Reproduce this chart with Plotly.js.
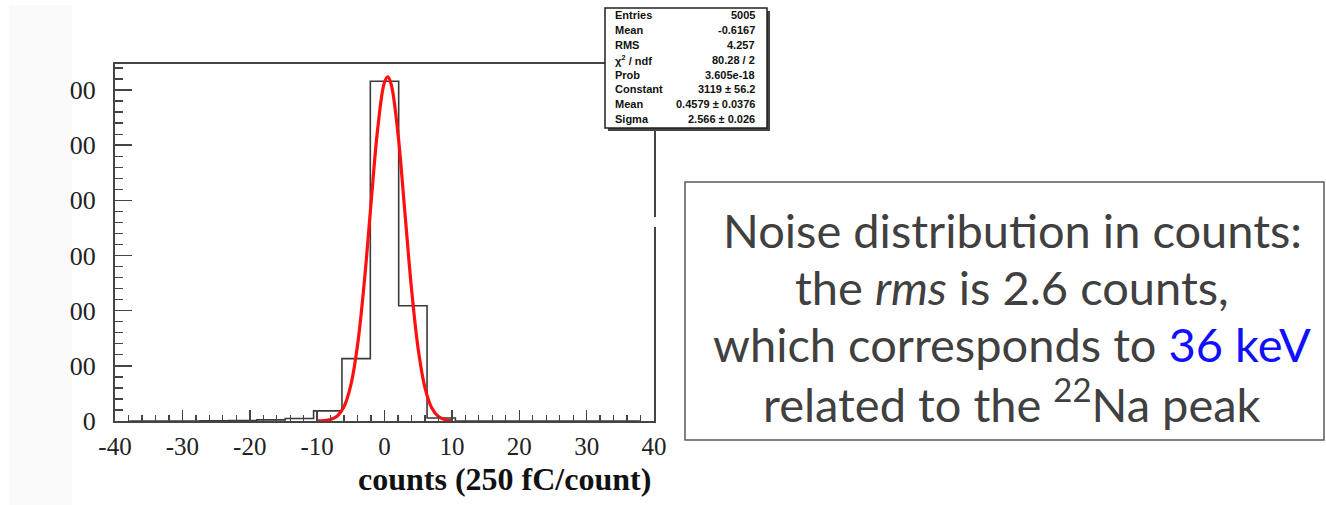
<!DOCTYPE html>
<html>
<head>
<meta charset="utf-8">
<script src="https://cdn.plot.ly/plotly-3.0.1.min.js"></script>
<style>html,body{margin:0;padding:0;background:#fff;}#chart{width:1326px;height:505px;}</style>
</head>
<body>
<div id="chart"></div>
<script>
// ---- data ----
const binCenters = [-37.89, -33.68, -29.47, -25.26, -21.05, -16.84, -12.63, -8.42, -4.21, 0, 4.21, 8.42, 12.63, 16.84, 21.05, 25.26, 29.47, 33.68, 37.89];
const binCounts  = [0, 0, 0, 2, 5, 10, 22, 92, 565, 3080, 1045, 27, 0, 0, 0, 0, 0, 0, 0];
const fitX = [-10, -9, -8, -7, -6, -5, -4, -3, -2, -1, 0, 0.5, 1, 2, 3, 4, 5, 6, 7, 8, 9, 10];
const fitY = [1, 3, 14, 46, 131, 325, 689, 1258, 1971, 2654, 3070, 3119, 3050, 2604, 1910, 1204, 652, 303, 121, 41, 12, 3];
const xTickVals = [-40, -30, -20, -10, 0, 10, 20, 30, 40];
const xTickText = ['-40', '-30', '-20', '-10', '0', '10', '20', '30', '40'];
const yTickVals = [0, 500, 1000, 1500, 2000, 2500, 3000];
const yTickText = ['0', '00', '00', '00', '00', '00', '00'];
const statLabels = ['Entries', 'Mean', 'RMS', 'χ<sup>2</sup> / ndf', 'Prob', 'Constant', 'Mean', 'Sigma'];
const statValues = ['5005', '-0.6167', '4.257', '80.28 / 2', '3.605e-18', '3119 ± 56.2', '0.4579 ± 0.0376', '2.566 ± 0.026'];
const noteLines = [
  'Noise distribution in counts:',
  'the <i>rms</i> is 2.6 counts,',
  'which corresponds to <span style="color:#1010ff">36 keV</span>',
  'related to the <sup>22</sup>Na peak'
];
const xTitle = 'counts (250 fC/count)';

// ---- layout geometry (pixels) ----
const W = 1326, H = 505;
const L = 115, R = 654, T = 64, B = 421;
const px = x => (x - L) / (R - L);
const py = y => (B - y) / (B - T);

const shapes = [
  {type: 'rect', xref: 'paper', yref: 'paper', x0: px(9), x1: px(72), y0: py(505), y1: py(5), fillcolor: '#fafafa', line: {width: 0}, layer: 'below'},
  {type: 'rect', xref: 'paper', yref: 'paper', x0: px(608), x1: px(770), y0: py(131), y1: py(11), fillcolor: '#444', line: {width: 0}, layer: 'above'},
  {type: 'rect', xref: 'paper', yref: 'paper', x0: px(605), x1: px(767), y0: py(128), y1: py(8), fillcolor: '#fff', line: {color: '#222', width: 1.5}, layer: 'above'},
  {type: 'rect', xref: 'paper', yref: 'paper', x0: px(650), x1: px(658), y0: py(227), y1: py(217), fillcolor: '#fff', line: {width: 0}, layer: 'above'},
  {type: 'rect', xref: 'paper', yref: 'paper', x0: px(685), x1: px(1324), y0: py(440), y1: py(182), fillcolor: 'rgba(0,0,0,0)', line: {color: '#5a5a5a', width: 1.5}, layer: 'above'}
];

const statY = [15, 30, 45, 60, 74.5, 89, 104, 118.5];
const annotations = [];
statLabels.forEach((t, i) => {
  annotations.push({xref: 'paper', yref: 'paper', x: px(613), y: py(statY[i]), xanchor: 'left', yanchor: 'middle', text: '<b>' + t + '</b>', showarrow: false, font: {family: 'Liberation Sans, Arial', size: 11, color: '#111'}});
  annotations.push({xref: 'paper', yref: 'paper', x: px(757), y: py(statY[i]), xanchor: 'right', yanchor: 'middle', text: '<b>' + statValues[i] + '</b>', showarrow: false, font: {family: 'Liberation Sans, Arial', size: 11, color: '#111'}});
});
const noteY = [230, 287, 344, 401];
noteLines.forEach((t, i) => {
  annotations.push({xref: 'paper', yref: 'paper', x: px(1012), y: py(noteY[i]), xanchor: 'center', yanchor: 'middle', text: t, showarrow: false, font: {family: 'Lato, Open Sans, sans-serif', size: 47, color: '#404040'}});
});
annotations.push({xref: 'paper', yref: 'paper', x: px(653), y: py(479), xanchor: 'right', yanchor: 'middle', text: '<b>' + xTitle + '</b>', showarrow: false, font: {family: 'Liberation Serif, Times New Roman, serif', size: 32, color: '#111'}});

const traces = [
  {type: 'scatter', mode: 'lines', x: binCenters, y: binCounts, line: {shape: 'hvh', color: '#3a3a3a', width: 1.6}, hoverinfo: 'x+y', showlegend: false},
  {type: 'scatter', mode: 'lines', x: fitX, y: fitY, line: {shape: 'spline', smoothing: 1, color: '#ff1010', width: 3.2}, hoverinfo: 'x+y', showlegend: false}
];

const axisLine = '#444';
const layout = {
  width: W, height: H,
  margin: {l: L, r: W - R, t: T, b: H - B, pad: 0},
  paper_bgcolor: '#ffffff', plot_bgcolor: '#ffffff',
  showlegend: false,
  xaxis: {
    range: [-40, 40], showgrid: false, zeroline: false,
    showline: true, linecolor: axisLine, linewidth: 2, mirror: true,
    ticks: 'inside', ticklen: 11, tickwidth: 1.5, tickcolor: axisLine,
    tickmode: 'array', tickvals: xTickVals, ticktext: xTickText,
    tickfont: {family: 'Liberation Serif, Times New Roman, serif', size: 25, color: '#222'},
    ticklabelstandoff: 2,
    minor: {dtick: 2, tick0: 0, ticks: 'inside', ticklen: 6, tickwidth: 1.3, tickcolor: axisLine, showgrid: false}
  },
  yaxis: {
    range: [0, 3236], showgrid: false, zeroline: false,
    showline: true, linecolor: axisLine, linewidth: 2, mirror: true,
    ticks: 'inside', ticklen: 17, tickwidth: 1.5, tickcolor: axisLine,
    tickmode: 'array', tickvals: yTickVals, ticktext: yTickText,
    tickfont: {family: 'Liberation Serif, Times New Roman, serif', size: 26, color: '#222'},
    ticklabelstandoff: 12,
    minor: {dtick: 100, tick0: 0, ticks: 'inside', ticklen: 8, tickwidth: 1.3, tickcolor: axisLine, showgrid: false}
  },
  shapes: shapes,
  annotations: annotations
};

Plotly.newPlot('chart', traces, layout, {displayModeBar: false, staticPlot: true});
</script>
</body>
</html>
